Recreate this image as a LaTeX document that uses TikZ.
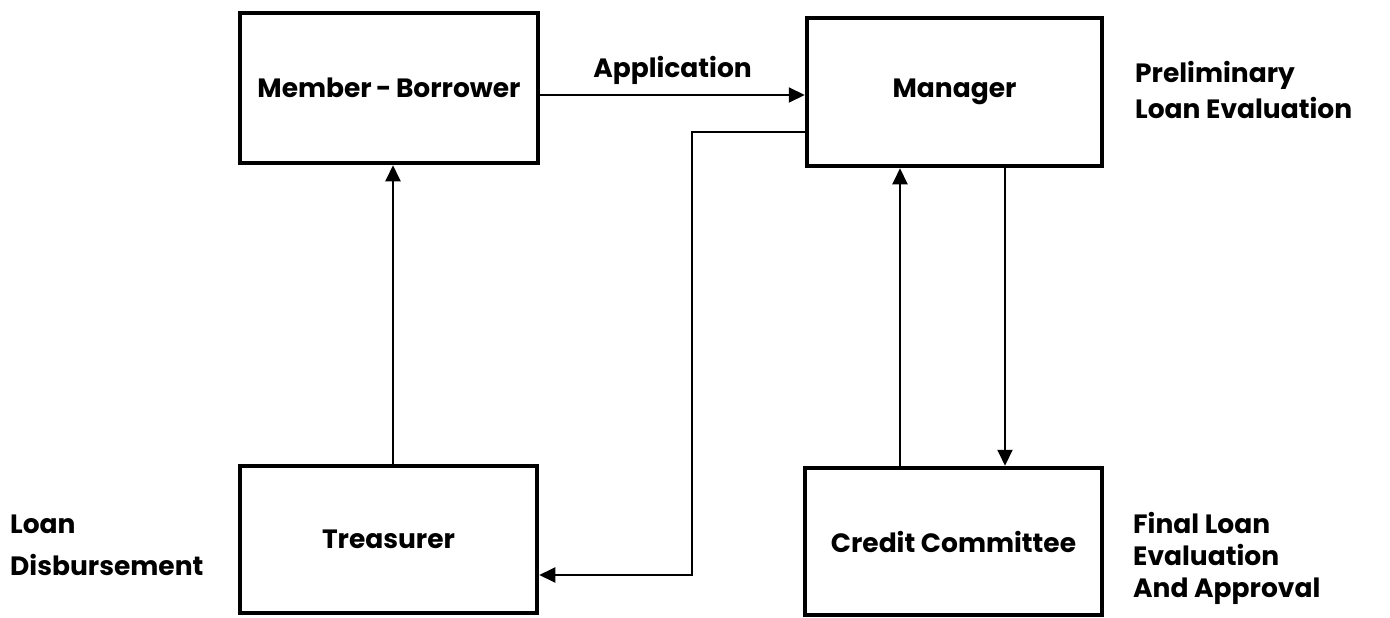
\documentclass[tikz,border=0pt]{standalone}
\usepackage{fontspec}
\setmainfont{Poppins}
\usetikzlibrary{arrows.meta}
\begin{document}
\begin{tikzpicture}[x=1pt,y=-1pt,
  box/.style={draw,line width=4.5pt,inner sep=0pt,font=\fontsize{26.5}{30}\selectfont\bfseries},
  conn/.style={line width=2pt,-{Triangle[length=16pt,width=15pt]}},
  lbl/.style={anchor=base west,inner sep=0pt,font=\fontsize{26.5}{30}\selectfont\bfseries}]
\useasboundingbox (0,0) rectangle (1390,618);
\node[box,minimum width=298pt,minimum height=150pt] (mb) at (389,88) {Member\,-\,Borrower};
\node[box,minimum width=295pt,minimum height=148pt] (mg) at (954.5,92) {Manager};
\node[box,minimum width=297pt,minimum height=147pt] (tr) at (388.5,539.5) {Treasurer};
\node[box,minimum width=297pt,minimum height=147pt] (cc) at (953.5,541.5) {Credit Committee};
\draw[conn] (mb.east |- 0,95) -- node[above=6pt,font=\fontsize{26.5}{30}\selectfont\bfseries] (app) {Application} (mg.west |- 0,95);
\coordinate (k1) at (692,132);
\coordinate (k2) at (692,575);
\draw[conn] (mg.west |- k1) -- (k1) -- (k2) -- (tr.east |- k2);
\draw[conn] (tr.north -| 393,0) -- (mb.south -| 393,0);
\draw[conn] (cc.north -| 900,0) -- (mg.south -| 900,0);
\draw[conn] (mg.south -| 1005,0) -- (cc.north -| 1005,0);
\node[lbl] (p1) at (1135,83) {Preliminary};
\node[lbl] (p2) at (1135,118) {Loan Evaluation};
\node[lbl] (d1) at (10,533) {Loan};
\node[lbl] (d2) at (10,575) {Disbursement};
\node[lbl] (f1) at (1133,533) {Final Loan};
\node[lbl] (f2) at (1133,565) {Evaluation};
\node[lbl] (f3) at (1133,597) {And Approval};
\end{tikzpicture}
\end{document}
